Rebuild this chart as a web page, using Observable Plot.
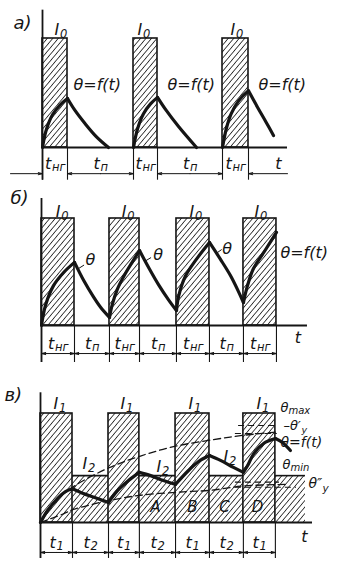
<!DOCTYPE html>
<html>
<head>
<meta charset="utf-8">
<script src="https://cdn.jsdelivr.net/npm/d3@7"></script>
<script src="https://cdn.jsdelivr.net/npm/@observablehq/plot@0.6"></script>
<style>
  html, body { margin: 0; padding: 0; background: #fff; }
  #fig { position: relative; width: 351px; height: 572px; background: #fff; overflow: hidden; }
  #fig svg { position: absolute; left: 0; overflow: visible; }
</style>
</head>
<body>
<div id="fig"></div>
<script>
// ================= DATA =================
// ---- Panel а): pulses t_нг, full cooling in pauses t_п
const aPulseStart = [0, 36.4, 72];
const aPulseEnd   = [10, 46, 82.4];
const aCurrent    = 100;                 // I0 level
const aTempSegments = [
  [[0,0],[1.5,16],[4,30],[7,39],[10,45]],
  [[10,45],[13,34],[17,22],[21.5,10],[26.4,0]],
  [[36.4,0],[38,17],[40.4,31],[43.2,40],[46,46]],
  [[46,46],[49.5,34],[54.5,19],[61.6,0]],
  [[72,0],[73.5,17],[75.5,31],[78.5,43],[82.4,52]],
  [[82.4,52],[86,37],[89.5,23],[92.4,11]]
];
const aTimeEnd = 98, aDimStart = -12.8, aAxisTop = 126, aTickBottom = -30, aArrowV = -24, aLabelV = -14.7;
const aCurrentLabels = [{t:7.2, v:108, main:"I", sub:"0"}, {t:40.4, v:108, main:"I", sub:"0"}, {t:77.6, v:108, main:"I", sub:"0"}];
const aThetaLabels = [{t:12.4, v:57, s:"θ=f(t)"}, {t:50, v:57, s:"θ=f(t)"}, {t:86.4, v:57, s:"θ=f(t)"}];
const aAxisLabel = [{t:94.4, v:-14.7, s:"t"}];
const aPanelLabel = [{t:-11.6, v:113.8, s:"а)"}];

// ---- Panel б): pulses t_нг, incomplete cooling in pauses t_п
const bPulseStart = [0, 20.6, 40.9, 61.2];
const bPulseEnd   = [10, 29.7, 50.9, 71.2];
const bCurrent    = 100;
const bTempSegments = [
  [[0,0],[1.2,18.7],[3.6,37],[6.7,49.5],[10,59]],
  [[10,59],[12.8,42],[15.8,26.5],[17.9,17],[20.6,7.5]],
  [[20.6,7.5],[21.4,19],[23,34],[25.5,49],[29.7,70]],
  [[29.7,70],[32.5,54],[35.5,38],[38.5,24],[40.9,14]],
  [[40.9,14],[41.6,28],[43.6,46],[47.2,63],[50.9,77.6]],
  [[50.9,77.6],[54.2,62],[57.3,46.5],[59.8,31],[61.2,21.5]],
  [[61.2,21.5],[62.4,37],[64.2,53],[67.3,68],[71.2,87]]
];
const bTimeEnd = 80.6, bAxisTop = 118.7, bTickBottom = -34.6, bArrowV = -26.2, bLabelV = -16.8;
const bCurrentLabels = [{t:6.1, v:106.5, main:"I", sub:"0"}, {t:26.1, v:106.5, main:"I", sub:"0"}, {t:46.7, v:106.5, main:"I", sub:"0"}, {t:66.4, v:106.5, main:"I", sub:"0"}];
const bThetaLabels = [{t:13.3, v:61, s:"θ"}, {t:33.9, v:66.4, s:"θ"}, {t:54.8, v:72, s:"θ"}, {t:72.4, v:68, s:"θ=f(t)"}];
const bLeaders = [{t1:11.1, v1:53, t2:12.9, v2:56.5}, {t1:31.3, v1:60, t2:33.2, v2:63.5}, {t1:53, v1:67.5, t2:54.6, v2:71}];
const bAxisLabel = [{t:77.7, v:-11.2, s:"t"}];
const bPanelLabel = [{t:-9.4, v:118.7, s:"б)"}];

// ---- Panel в): two-level load I1 / I2
const cHighStart = [0, 21.25, 42.2, 63.4];
const cHighEnd   = [10, 30.9, 52.8, 73.4];
const cHigh      = 100;                  // I1
const cLowStart  = [10, 30.9, 52.8, 73.4];
const cLowEnd    = [21.25, 42.2, 63.4, 82.8];
const cLow       = 43;                   // I2
const cTempSegments = [
  [[0,0],[2.2,11],[5.3,22],[7.8,28.4],[10,31]],
  [[10,31],[13.4,26.6],[17.8,22],[21.25,18.3]],
  [[21.25,18.3],[24,29],[27.5,38.5],[30.9,46]],
  [[30.9,46],[34.4,43],[38.4,38.5],[42.2,35]],
  [[42.2,35],[46.25,47.7],[49.4,56],[52.8,61.5]],
  [[52.8,61.5],[56.25,57],[60.3,50.5],[63.4,46]],
  [[63.4,46],[64.7,52],[66.6,63],[69.7,72.5],[73.4,77]],
  [[73.4,77],[75.6,73.4],[78.1,66]]
];
const cUpperEnvelope = [[0,0],[5,20],[10.9,34],[21.25,50],[31.25,61],[42.2,70],[54,76],[63.4,80],[74,83]];
const cLowerEnvelope = [[0,0],[7.2,8],[10.3,12],[21.25,20],[31.25,25],[43.75,28],[53,29.5],[63.4,33.5],[77,35]];
const cLevelDashes = [{v:89, t1:61.9, t2:74.4}, {v:81.7, t1:60.9, t2:74}, {v:37, t1:60.9, t2:74.7}, {v:32.4, t1:60.9, t2:80}];
const cTimeEnd = 85, cAxisTop = 119, cTickBottom = -33, cArrowV = -27.5, cLabelV = -18.3;
const cHighLabels = [{t:5.9, v:109.2, main:"I", sub:"1"}, {t:26.9, v:109.2, main:"I", sub:"1"}, {t:48.1, v:109.2, main:"I", sub:"1"}, {t:69.4, v:109.2, main:"I", sub:"1"}];
const cLowLabels = [{t:15, v:54, main:"I", sub:"2"}, {t:38.1, v:51.4, main:"I", sub:"2"}, {t:59.1, v:60.6, main:"I", sub:"2"}];
const cZoneLabels = [{t:35.9, v:13.8, s:"A"}, {t:47.5, v:13.8, s:"B"}, {t:57.5, v:13.8, s:"C"}, {t:67.8, v:13.8, s:"D"}];
const cThetaMax = [{t:75, v:105.5, main:"θ", sub:"max"}];
const cThetaMin = [{t:75.6, v:53.2, main:"θ", sub:"min"}];
const cThetaY1 = [{t:75.9, v:89, main:"–θ′", sub:"y"}];
const cThetaY2 = [{t:83.75, v:36, main:"θ″", sub:"y"}];
const cThetaF = [{t:75, v:73.4, s:"θ=f(t)"}];
const cAxisLabel = [{t:82.5, v:-12.8, s:"t"}];
const cPanelLabel = [{t:-11.25, v:116.5, s:"в)"}];

// ================= HELPERS =================
const FONT = "DejaVu Sans";
const INK = "#151515";
const fig = document.getElementById("fig");

const segs = (list) => list.flatMap((s, i) => s.map(([t, v]) => ({seg: i, t, v})));
const pts = (list) => list.map(([t, v]) => ({t, v}));
const pulses = (s, e, level) => s.map((x, i) => ({start: x, end: e[i], level}));
const centers = (s, e) => s.map((x, i) => (x + e[i]) / 2);
function doubleArrows(bounds, v) {
  const out = [];
  for (let i = 0; i < bounds.length - 1; i++) {
    const a = bounds[i], b = bounds[i + 1], m = (a + b) / 2;
    out.push({x1: m, x2: a, y: v}, {x1: m, x2: b, y: v});
  }
  return out;
}
function plain(data, o = {}) {
  return Plot.text(data, {x: "t", y: "v", text: "s", fontFamily: FONT, fontStyle: "italic", fill: INK, fontSize: 16, textAnchor: "start", ...o});
}
function sublabel(data, {dx = 0, subDx = 5.5, subDy = 4.5, size = 16, subSize = 11.5} = {}) {
  const base = {x: "t", y: "v", fontFamily: FONT, fontStyle: "italic", fill: INK, textAnchor: "start"};
  return [Plot.text(data, {...base, text: "main", fontSize: size, dx}),
          Plot.text(data, {...base, text: "sub", fontSize: subSize, dx: dx + subDx, dy: subDy})];
}
function bottomLabels(tCenters, v, sub, wide) {
  const data = tCenters.map(t => ({t, v, main: "t", sub}));
  return wide ? sublabel(data, {dx: -10, subDx: 7, subDy: 3.5})
              : sublabel(data, {dx: -7, subDx: 7, subDy: 3.5});
}
function frame(bounds, timeEnd, axisTop, tickBottom) {
  return [
    Plot.ruleX([0], {y1: tickBottom, y2: axisTop, stroke: INK, strokeWidth: 1.8}),
    Plot.ruleY([0], {x1: 0, x2: timeEnd, stroke: INK, strokeWidth: 1.8}),
    Plot.ruleX(bounds, {y1: 0, y2: tickBottom, stroke: INK, strokeWidth: 1.1})
  ];
}
const arrowStyle = {x1: "x1", x2: "x2", y1: "y", y2: "y", stroke: INK, strokeWidth: 1, headLength: 6.5, headAngle: 28};

function panel(top, height, xRange, yRange, hatchId, marks) {
  const svg = Plot.plot({
    width: 351, height, margin: 0,
    x: {domain: [0, 10], range: xRange, axis: null},
    y: {domain: [0, 100], range: yRange, axis: null},
    style: {background: "transparent", overflow: "visible"},
    marks
  });
  const defs = d3.select(svg).insert("defs", ":first-child");
  const p = defs.append("pattern").attr("id", hatchId).attr("patternUnits", "userSpaceOnUse")
    .attr("width", 4.2).attr("height", 4.2).attr("patternTransform", "rotate(40)");
  p.append("rect").attr("width", 4.2).attr("height", 4.2).attr("fill", "#fff");
  p.append("line").attr("x1", 2.1).attr("y1", -1).attr("x2", 2.1).attr("y2", 5.2)
    .attr("stroke", "#2a2a2a").attr("stroke-width", 0.85);
  svg.style.top = top + "px";
  fig.appendChild(svg);
}

// ================= PANEL а =================
{
  const P = pulses(aPulseStart, aPulseEnd, aCurrent);
  const bounds = aPulseStart.flatMap((s, i) => [s, aPulseEnd[i]]);
  const arrows = [{x1: aDimStart, x2: aPulseStart[0], y: aArrowV}];
  for (let i = 0; i < aPulseEnd.length - 1; i++) {
    const a = aPulseEnd[i], b = aPulseStart[i + 1], m = (a + b) / 2;
    arrows.push({x1: m, x2: a, y: aArrowV}, {x1: m, x2: b, y: aArrowV});
  }
  arrows.push({x1: aTimeEnd, x2: aPulseEnd[aPulseEnd.length - 1], y: aArrowV});
  const gapCenters = aPulseEnd.slice(0, -1).map((e, i) => (e + aPulseStart[i + 1]) / 2);
  panel(0, 183, [42, 67], [147, 38], "hatchA", [
    Plot.rect(P, {x1: "start", x2: "end", y1: 0, y2: "level", fill: "url(#hatchA)", stroke: INK, strokeWidth: 1.6}),
    Plot.line(segs(aTempSegments), {x: "t", y: "v", z: "seg", curve: "catmull-rom", stroke: INK, strokeWidth: 3.2}),
    ...frame(bounds, aTimeEnd, aAxisTop, aTickBottom),
    Plot.arrow(arrows, arrowStyle),
    ...sublabel(aCurrentLabels, {dx: -6}),
    plain(aThetaLabels),
    ...bottomLabels(centers(aPulseStart, aPulseEnd), aLabelV, "нг", true),
    ...bottomLabels(gapCenters, aLabelV, "п", false),
    plain(aAxisLabel, {textAnchor: "middle"}),
    plain(aPanelLabel, {fontSize: 18})
  ]);
}

// ================= PANEL б =================
{
  const P = pulses(bPulseStart, bPulseEnd, bCurrent);
  const bounds = bPulseStart.flatMap((s, i) => [s, bPulseEnd[i]]);
  const gapCenters = bPulseEnd.slice(0, -1).map((e, i) => (e + bPulseStart[i + 1]) / 2);
  panel(183, 181, [41, 74], [142, 35], "hatchB", [
    Plot.rect(P, {x1: "start", x2: "end", y1: 0, y2: "level", fill: "url(#hatchB)", stroke: INK, strokeWidth: 1.6}),
    Plot.line(segs(bTempSegments), {x: "t", y: "v", z: "seg", curve: "catmull-rom", stroke: INK, strokeWidth: 3.2}),
    ...frame(bounds, bTimeEnd, bAxisTop, bTickBottom),
    Plot.arrow(doubleArrows(bounds, bArrowV), arrowStyle),
    Plot.link(bLeaders, {x1: "t1", y1: "v1", x2: "t2", y2: "v2", stroke: INK, strokeWidth: 1}),
    ...sublabel(bCurrentLabels, {dx: -6}),
    plain(bThetaLabels),
    ...bottomLabels(centers(bPulseStart, bPulseEnd), bLabelV, "нг", true),
    ...bottomLabels(gapCenters, bLabelV, "п", false),
    plain(bAxisLabel, {textAnchor: "middle"}),
    plain(bPanelLabel, {fontSize: 18})
  ]);
}

// ================= PANEL в =================
{
  const H = pulses(cHighStart, cHighEnd, cHigh);
  const L = pulses(cLowStart, cLowEnd, cLow);
  const bounds = cHighStart.flatMap((s, i) => [s, cHighEnd[i]]);
  panel(364, 208, [40, 72], [158, 49], "hatchC", [
    Plot.rect(L, {x1: "start", x2: "end", y1: 0, y2: "level", fill: "url(#hatchC)"}),
    Plot.rect(H, {x1: "start", x2: "end", y1: 0, y2: "level", fill: "url(#hatchC)", stroke: INK, strokeWidth: 1.6}),
    Plot.ruleY(L, {y: "level", x1: "start", x2: "end", stroke: INK, strokeWidth: 1.6}),
    Plot.line(pts(cUpperEnvelope), {x: "t", y: "v", curve: "catmull-rom", stroke: INK, strokeWidth: 1.3, strokeDasharray: "7,4"}),
    Plot.line(pts(cLowerEnvelope), {x: "t", y: "v", curve: "catmull-rom", stroke: INK, strokeWidth: 1.3, strokeDasharray: "7,4"}),
    Plot.ruleY(cLevelDashes, {y: "v", x1: "t1", x2: "t2", stroke: INK, strokeWidth: 1.1, strokeDasharray: "6,4"}),
    Plot.line(segs(cTempSegments), {x: "t", y: "v", z: "seg", curve: "catmull-rom", stroke: INK, strokeWidth: 3.2}),
    ...frame(bounds, cTimeEnd, cAxisTop, cTickBottom),
    Plot.arrow(doubleArrows(bounds, cArrowV), arrowStyle),
    ...sublabel(cHighLabels, {dx: -6}),
    ...sublabel(cLowLabels, {dx: -6}),
    plain(cZoneLabels, {textAnchor: "middle", fontSize: 15}),
    ...sublabel(cThetaMax, {size: 13, subSize: 10, subDx: 8, subDy: 3.5}),
    ...sublabel(cThetaMin, {size: 13, subSize: 10, subDx: 8, subDy: 3.5}),
    ...sublabel(cThetaY1, {size: 13, subSize: 9.5, subDx: 18, subDy: 4}),
    ...sublabel(cThetaY2, {size: 14, subSize: 10.5, subDx: 14, subDy: 5}),
    plain(cThetaF, {fontSize: 14}),
    ...bottomLabels(centers(cHighStart, cHighEnd), cLabelV, "1", false),
    ...bottomLabels(centers(cLowStart.slice(0, 3), cLowEnd.slice(0, 3)), cLabelV, "2", false),
    plain(cAxisLabel, {textAnchor: "middle"}),
    plain(cPanelLabel, {fontSize: 18})
  ]);
}
</script>
</body>
</html>
